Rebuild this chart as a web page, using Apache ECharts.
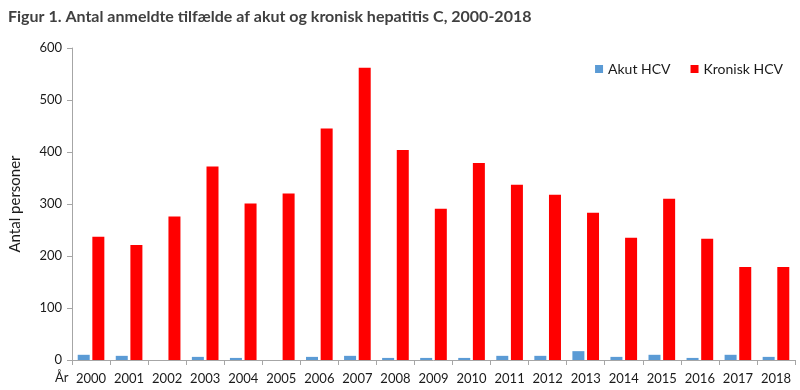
<!DOCTYPE html>
<html><head><meta charset="utf-8">
<script src="https://cdn.jsdelivr.net/npm/echarts@6/dist/echarts.min.js"></script>
<style>html,body{margin:0;padding:0;background:#fff}#c{width:800px;height:390px}</style>
</head><body><div id="c"></div>
<script>
const years = ['2000','2001','2002','2003','2004','2005','2006','2007','2008','2009','2010','2011','2012','2013','2014','2015','2016','2017','2018'];
const akut = [10,8,0,6,4,0,6,8,4,4,4,8,8,17,6,10,4,10,6];
const kronisk = [237,221,276,372,301,320,445,562,404,291,379,337,318,283,235,310,233,179,179];
const yTicks = [0,100,200,300,400,500,600];
const FONT = 'Lato';
const chart = echarts.init(document.getElementById('c'));
chart.setOption({
  animation:false,
  title:{text:'Figur 1. Antal anmeldte tilfælde af akut og kronisk hepatitis C, 2000-2018',left:3,top:4,
    textStyle:{fontFamily:FONT,fontWeight:'bold',fontSize:16,color:'#404040'}},
  legend:{top:57,right:12,itemWidth:8,itemHeight:8,itemGap:20,icon:'rect',
    textStyle:{fontFamily:FONT,fontSize:14,color:'#1a1a1a'},data:['Akut HCV','Kronisk HCV']},
  grid:{left:69,right:5,top:48,bottom:30},
  xAxis:{type:'category',data:years,
    axisLine:{lineStyle:{color:'#a6a6a6',width:1}},
    axisTick:{show:true,length:5,lineStyle:{color:'#a6a6a6'}},
    axisLabel:{interval:0,fontFamily:FONT,fontSize:13,color:'#1a1a1a',margin:12}},
  yAxis:{type:'value',min:yTicks[0],max:yTicks[yTicks.length-1],interval:100,
    name:'Antal personer',nameLocation:'middle',nameGap:49,nameRotate:90,
    nameTextStyle:{fontFamily:FONT,fontSize:15,color:'#1a1a1a'},
    axisLine:{show:true,lineStyle:{color:'#a6a6a6'}},
    axisTick:{show:true,length:5,lineStyle:{color:'#a6a6a6'}},
    splitLine:{show:false},
    axisLabel:{fontFamily:FONT,fontSize:13,color:'#1a1a1a',margin:10}},
  graphic:[{type:'text',left:55,top:371,style:{text:'År',fontFamily:FONT,fontSize:13,fill:'#1a1a1a'}}],
  series:[
    {name:'Akut HCV',type:'bar',data:akut,barWidth:12,barGap:'22%',itemStyle:{color:'#5b9bd5'}},
    {name:'Kronisk HCV',type:'bar',data:kronisk,barWidth:12,itemStyle:{color:'#ff0000'}}
  ]
});
</script></body></html>
